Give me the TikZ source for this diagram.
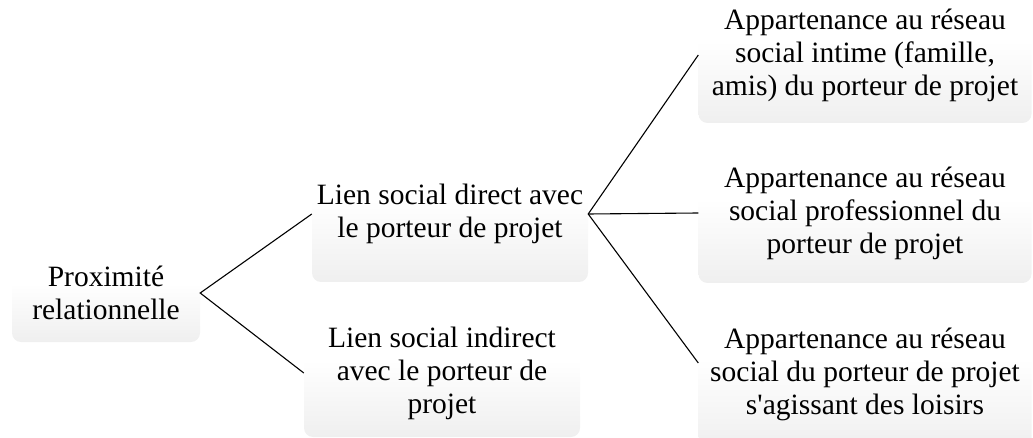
\documentclass[tikz,border=0pt]{standalone}
\usepackage{fontspec}
\setmainfont{Liberation Serif}
\usetikzlibrary{positioning}

\pgfdeclareverticalshading{boxfade}{100bp}{color(0bp)=(black!12); color(12bp)=(black!9);
    color(55bp)=(white); color(100bp)=(white)}

\begin{document}
\begin{tikzpicture}[x=1pt, y=-1pt,
        every node/.style={font=\fontsize{29.5}{33}\selectfont},
        box/.style={rounded corners=9pt, shading=boxfade, align=center, inner sep=0pt},
        link/.style={line width=1.1pt},
    ]
        \useasboundingbox (0,0) rectangle (1033,438);

        % Root
        \node[box, minimum width=188pt, minimum height=98pt] (prox) at (106,293)
              {Proximité\\relationnelle};

        % Second level
        \node[box, minimum width=276pt, minimum height=136pt] (direct) at (450,214)
              {Lien social direct avec\\le porteur de projet};
        \node[box, minimum width=276pt, minimum height=128pt] (indirect) at (442,373)
              {Lien social indirect\\avec le porteur de\\projet};

        % Third level
        \node[box, minimum width=333pt, minimum height=136pt] (intime) at (865,55)
              {Appartenance au réseau\\social intime (famille,\\amis) du porteur de projet};
        \node[box, minimum width=333pt, minimum height=140pt] (pro) at (865,213)
              {Appartenance au réseau\\social professionnel du\\porteur de projet};
        \node[box, minimum width=333pt, minimum height=150pt] (loisirs) at (865,374)
              {Appartenance au réseau\\social du porteur de projet\\s\textquotesingle agissant des loisirs};

        % Links
        \draw[link] (direct.west) -- (prox.east) -- (indirect.west);
        \draw[link] (intime.west) -- (direct.east) -- ([yshift=11pt]loisirs.west);
        \draw[link] (direct.east) -- (pro.west);
    \end{tikzpicture}
\end{document}
